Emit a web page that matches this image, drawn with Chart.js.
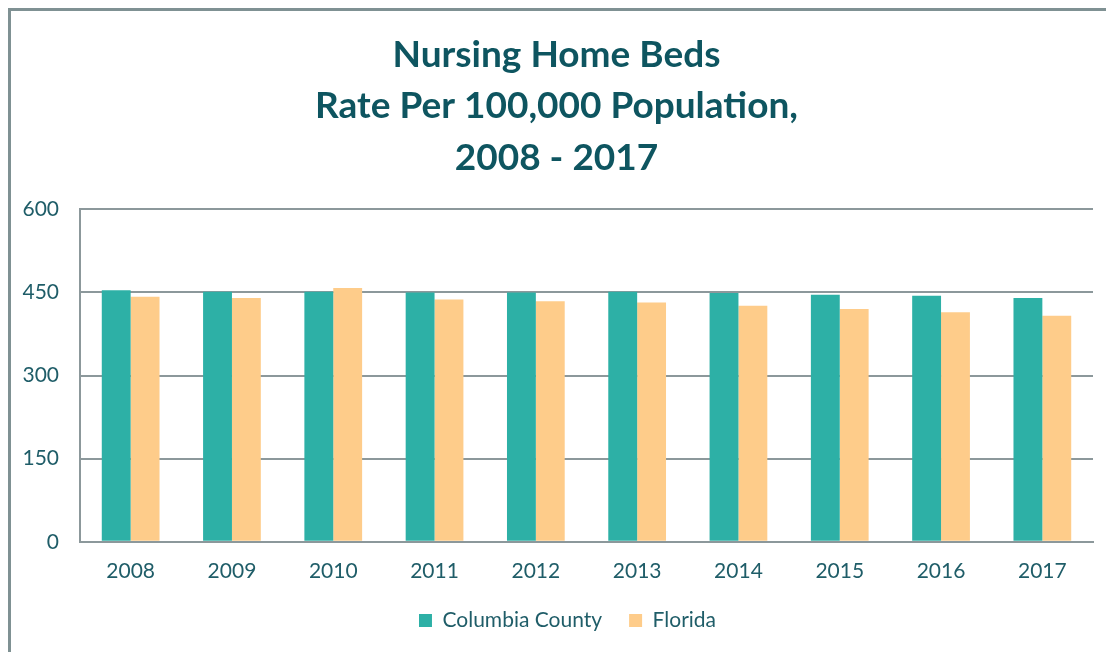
<!DOCTYPE html>
<html>
<head>
<meta charset="utf-8">
<script src="https://cdn.jsdelivr.net/npm/chart.js@4.4.0/dist/chart.umd.min.js"></script>
<style>
  html, body { margin: 0; padding: 0; background: #fff; }
  #wrap { position: relative; width: 1106px; height: 652px; }
  #frame {
    position: absolute; left: 8px; top: 8px; right: -10px; bottom: -10px;
    border-left: 3px solid #7f9193; border-top: 3px solid #7f9193;
    pointer-events: none;
  }
  canvas { position: absolute; left: 0; top: 0; }
</style>
</head>
<body>
<div id="wrap">
  <canvas id="chart" width="1106" height="652"></canvas>
  <div id="frame"></div>
</div>
<script>
// =========================
// DATA
// =========================
const years = ["2008", "2009", "2010", "2011", "2012", "2013", "2014", "2015", "2016", "2017"];
const columbiaCounty = [454, 451, 451, 450, 450, 451, 449, 446, 444, 440];
const florida = [442, 440, 458, 437, 434, 432, 426, 420, 414, 408];
const titleLines = ["Nursing Home Beds", "Rate Per 100,000 Population,", "2008 - 2017"];

const textColor = "#1f5d68";
const gridColor = "#8c989b";

// legend sits a bit right of the title and closer to the axis in the original
const nudgeLegend = {
  id: "nudgeLegend",
  afterLayout(chart) {
    const lg = chart.legend;
    lg.left += 11;
    lg.right += 11;
    lg.top -= 18;
    lg.bottom -= 18;
  }
};

// =========================
// CHART
// =========================
new Chart(document.getElementById("chart"), {
  type: "bar",
  data: {
    labels: years,
    datasets: [
      {
        label: "Columbia County",
        data: columbiaCounty,
        backgroundColor: "#2db0a6",
        borderWidth: 0,
        categoryPercentage: 0.57,
        barPercentage: 1
      },
      {
        label: "Florida",
        data: florida,
        backgroundColor: "#fecc8a",
        borderWidth: 0,
        categoryPercentage: 0.57,
        barPercentage: 1
      }
    ]
  },
  options: {
    responsive: false,
    animation: false,
    layout: {
      padding: { left: 20, right: 13, top: 13, bottom: -7 }
    },
    plugins: {
      title: {
        display: true,
        text: titleLines,
        color: "#0e5560",
        font: { family: "Lato", size: 37, weight: "bold", lineHeight: 1.39 },
        padding: { top: 16, bottom: 26 }
      },
      legend: {
        position: "bottom",
        labels: {
          color: textColor,
          font: { family: "Lato", size: 21 },
          boxWidth: 13,
          boxHeight: 13,
          padding: 27
        }
      },
      tooltip: { enabled: false }
    },
    scales: {
      x: {
        grid: { display: false, drawTicks: false },
        border: { color: gridColor, width: 2 },
        ticks: {
          color: textColor,
          font: { family: "Lato", size: 21 },
          padding: 17
        }
      },
      y: {
        min: 0,
        max: 600,
        afterFit: s => { s.width = 60; },
        grid: { color: gridColor, lineWidth: 2, drawTicks: false },
        border: { color: gridColor, width: 2 },
        ticks: {
          stepSize: 150,
          color: textColor,
          font: { family: "Lato", size: 21 },
          padding: 21
        }
      }
    }
  },
  plugins: [nudgeLegend]
});
</script>
</body>
</html>
